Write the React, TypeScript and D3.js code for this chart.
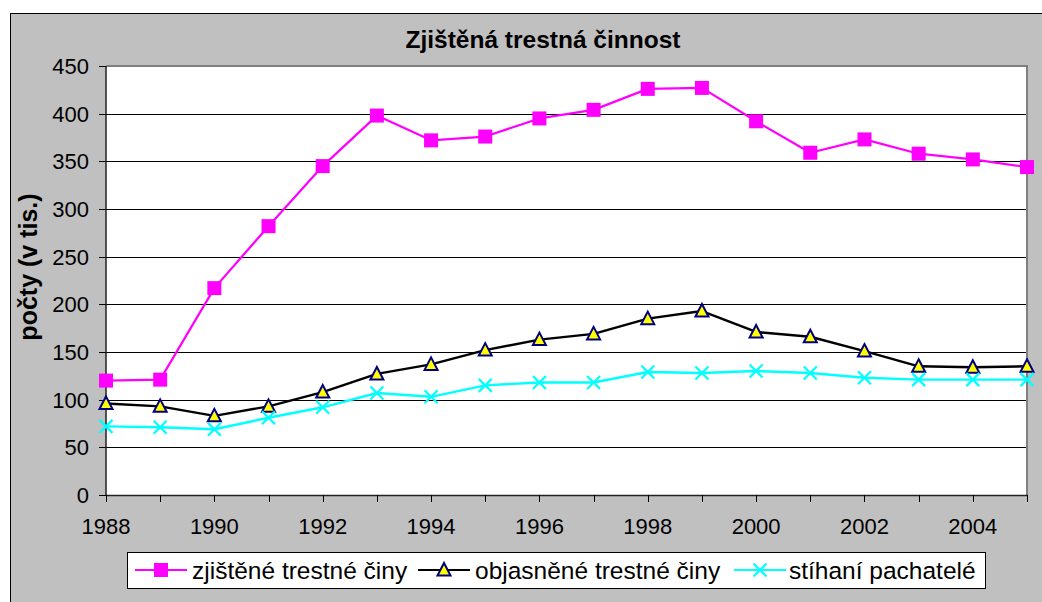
import React from "react";
import * as d3 from "d3";

const years = [1988, 1989, 1990, 1991, 1992, 1993, 1994, 1995, 1996, 1997, 1998, 1999, 2000, 2001, 2002, 2003, 2004, 2005];
const zjistene = [120, 121, 217, 282, 345, 398, 372, 376, 395, 404, 426, 427, 392, 359, 373, 358, 352, 344];
const objasnene = [96, 93, 83, 93, 108, 127, 137, 152, 163, 169, 185, 193, 171, 166, 151, 135, 134, 135];
const stihani = [72, 71, 69, 81, 92, 107, 103, 115, 118, 118, 129, 128, 130, 128, 123, 121, 121, 121];
const yTicks = [0, 50, 100, 150, 200, 250, 300, 350, 400, 450];
const xLabelYears = [1988, 1990, 1992, 1994, 1996, 1998, 2000, 2002, 2004];
const seriesNames = ["zjištěné trestné činy", "objasněné trestné činy", "stíhaní pachatelé"];
const title = "Zjištěná trestná činnost";
const yTitle = "počty (v tis.)";

const FONT = "Arial, 'Liberation Sans', sans-serif";

function Square({ x, y }: { x: number; y: number }) {
  return <rect x={x - 7} y={y - 7} width={14} height={14} fill="#ff00ff" />;
}
function Tri({ x, y }: { x: number; y: number }) {
  return (
    <path
      d={`M${x},${y - 7} L${x + 6.5},${y + 5.5} L${x - 6.5},${y + 5.5} Z`}
      fill="#ffff00"
      stroke="#000080"
      strokeWidth={2}
      strokeLinejoin="miter"
    />
  );
}
function Cross({ x, y }: { x: number; y: number }) {
  const s = 6.5;
  return (
    <path
      d={`M${x - s},${y - s} L${x + s},${y + s} M${x - s},${y + s} L${x + s},${y - s}`}
      stroke="#00ffff"
      strokeWidth={2.2}
    />
  );
}

export default function App() {
  const W = 1042;
  const H = 602;
  const left = 106;
  const right = 1027;
  const top = 66;
  const bottom = 495;

  const x = d3.scaleLinear().domain([1988, 2005]).range([left, right]);
  const y = d3.scaleLinear().domain([0, 450]).range([bottom, top]);

  const line = d3
    .line<number>()
    .x((_, i) => x(years[i]))
    .y((d) => y(d));

  const series = [
    { data: zjistene, color: "#ff00ff", width: 2.2, Marker: Square },
    { data: objasnene, color: "#000000", width: 2.4, Marker: Tri },
    { data: stihani, color: "#00ffff", width: 2.4, Marker: Cross },
  ];

  const legendItems = [
    { lx: 135, tx: 192 },
    { lx: 418, tx: 475 },
    { lx: 734, tx: 789 },
  ];

  return (
    <svg
      width={W}
      height={H}
      style={{ position: "absolute", left: 0, top: 0 }}
      fontFamily={FONT}
    >
      <rect x={0} y={0} width={W} height={H} fill="#ffffff" />
      <rect x={10.5} y={13.5} width={W} height={H} fill="#c0c0c0" stroke="#000" strokeWidth={1} />

      <text x={543} y={48} textAnchor="middle" fontSize={24.5} fontWeight="bold" fill="#000">
        {title}
      </text>

      <rect x={left} y={top} width={right - left} height={bottom - top} fill="#ffffff" />
      {yTicks.map((t) => (
        <line key={"g" + t} x1={left} x2={right} y1={Math.round(y(t)) + 0.5} y2={Math.round(y(t)) + 0.5} stroke="#000" strokeWidth={1} />
      ))}
      <path d={`M${left},${top} L${right},${top} L${right},${bottom}`} fill="none" stroke="#808080" strokeWidth={2} />

      <line x1={left} x2={left} y1={top} y2={bottom} stroke="#222" strokeWidth={1.5} />
      {yTicks.map((t) => (
        <g key={"yt" + t}>
          <line x1={left - 7} x2={left} y1={Math.round(y(t)) + 0.5} y2={Math.round(y(t)) + 0.5} stroke="#000" strokeWidth={1} />
          <text x={89} y={y(t)} dy="0.36em" textAnchor="end" fontSize={22} fill="#000">
            {t}
          </text>
        </g>
      ))}

      <line x1={left} x2={right} y1={bottom + 0.5} y2={bottom + 0.5} stroke="#222" strokeWidth={1.5} />
      {years.map((yr) => (
        <line key={"xt" + yr} x1={Math.round(x(yr)) + 0.5} x2={Math.round(x(yr)) + 0.5} y1={bottom} y2={bottom + 7} stroke="#000" strokeWidth={1} />
      ))}
      {xLabelYears.map((yr) => (
        <text key={"xl" + yr} x={x(yr)} y={534} textAnchor="middle" fontSize={22} fill="#000">
          {yr}
        </text>
      ))}

      <text transform="translate(37,267) rotate(-90)" textAnchor="middle" fontSize={25} fontWeight="bold" fill="#000">
        {yTitle}
      </text>

      {series.map((s, si) => (
        <g key={"s" + si}>
          <path d={line(s.data) || ""} fill="none" stroke={s.color} strokeWidth={s.width} strokeLinejoin="round" />
          {s.data.map((v, i) => (
            <s.Marker key={i} x={x(years[i])} y={y(v)} />
          ))}
        </g>
      ))}

      <rect x={127.5} y={552.5} width={858} height={36} fill="#ffffff" stroke="#000" strokeWidth={1} />
      {series.map((s, si) => {
        const it = legendItems[si];
        const cy = 570;
        return (
          <g key={"lg" + si}>
            <line x1={it.lx} x2={it.lx + 52} y1={cy} y2={cy} stroke={s.color} strokeWidth={2.2} />
            <s.Marker x={it.lx + 26} y={cy} />
            <text x={it.tx} y={579} fontSize={24.5} fill="#000">
              {seriesNames[si]}
            </text>
          </g>
        );
      })}
    </svg>
  );
}
